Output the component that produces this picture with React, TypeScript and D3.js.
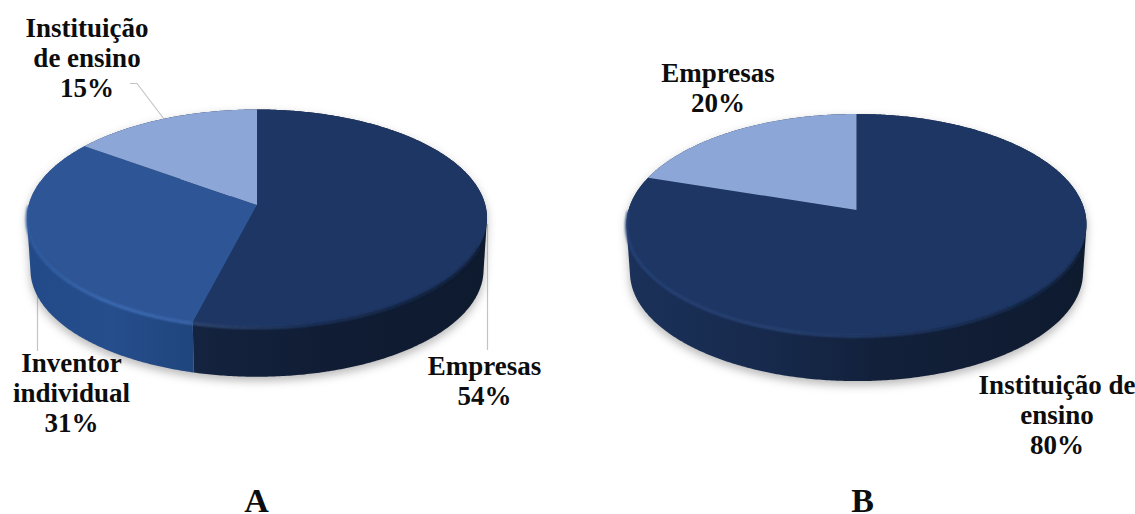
import React from "react";
import * as d3 from "d3";

const WIDTH = 1135;
const HEIGHT = 514;

const categoriesA = ["Empresas", "Inventor individual", "Instituição de ensino"];
const valuesA = [54, 31, 15];
const categoriesB = ["Instituição de ensino", "Empresas"];
const valuesB = [80, 20];
const panelTitles = ["A", "B"];

const DARK = "#1e3663";
const MID = "#2e5595";
const LIGHT = "#8ca7d7";

const topColors: Record<string, string> = {
  "Empresas|A": DARK,
  "Inventor individual|A": MID,
  "Instituição de ensino|A": LIGHT,
  "Instituição de ensino|B": DARK,
  "Empresas|B": LIGHT,
};

type Disc = { cx: number; cy: number; a: number; b: number; p: number; depth: number; shrink: number };

const discA: Disc = { cx: 257, cy: 205, a: 228.3, b: 107, p: 0.12, depth: 52, shrink: 0.985 };
const discB: Disc = { cx: 856.5, cy: 210, a: 228, b: 108.6, p: 0.131, depth: 48, shrink: 0.985 };

// Perspective projection of a point on the tilted disc: the near edge reads larger.
function project(d: Disc, theta: number, drop = 0, scale = 1): [number, number] {
  const u = Math.sin(theta);
  const v = -Math.cos(theta);
  const w = 1 - d.p * v;
  return [d.cx + (d.a * scale * u) / w, d.cy + drop + (d.b * scale * v) / w];
}

const lineGen = d3.line<[number, number]>().curve(d3.curveLinear);

function rim(d: Disc, a0: number, a1: number, drop = 0, scale = 1): [number, number][] {
  const n = Math.max(4, Math.ceil(Math.abs(a1 - a0) / 0.01));
  return d3.range(n + 1).map((i) => project(d, a0 + ((a1 - a0) * i) / n, drop, scale));
}

const pieGen = d3.pie<number>().sort(null).startAngle(0).endAngle(2 * Math.PI);

function Pie({ id, disc, cats, vals, panel }: { id: string; disc: Disc; cats: string[]; vals: number[]; panel: string }) {
  const arcs = pieGen(vals);
  const tone = (i: number) => topColors[`${cats[i]}|${panel}`];
  const sideFill = (i: number) => (tone(i) === MID ? `url(#${id}-sideMid)` : `url(#${id}-sideDark)`);
  // The extruded wall of a slice is the convex hull of its top and bottom rim arcs;
  // whatever the hull covers behind the rim is painted over by the top faces.
  const wall = (a0: number, a1: number) =>
    d3.polygonHull([...rim(disc, a0, a1), ...rim(disc, a0, a1, disc.depth, disc.shrink)]) as [number, number][];
  const silhouette = wall(0, 2 * Math.PI);
  return (
    <g>
      <path d={lineGen(silhouette) + "Z"} fill="#6f6f6f" opacity={0.5} transform="translate(0,4)" filter="url(#softShadow)" />
      {arcs.map((s, i) => (
        <path key={`side-${i}`} d={lineGen(wall(s.startAngle, s.endAngle)) + "Z"} fill={sideFill(i)} />
      ))}
      {arcs.map((s, i) => (
        <path
          key={`top-${i}`}
          d={lineGen([[disc.cx, disc.cy], ...rim(disc, s.startAngle, s.endAngle)]) + "Z"}
          fill={tone(i)}
        />
      ))}
      {arcs.map((s, i) =>
        tone(i) === LIGHT ? null : (
          <path
            key={`bevel-${i}`}
            d={lineGen(rim(disc, Math.max(s.startAngle, Math.PI * 0.62), Math.min(s.endAngle, Math.PI * 1.5), 1.2)) ?? ""}
            fill="none"
            stroke={tone(i) === MID ? `url(#${id}-bevelMid)` : `url(#${id}-bevelDark)`}
            strokeWidth={2.6}
            filter="url(#softEdge)"
          />
        ),
      )}
    </g>
  );
}

function Label({ x, y, lines }: { x: number; y: number; lines: string[] }) {
  return (
    <text x={x} y={y} textAnchor="middle" fontFamily="'Liberation Serif', serif" fontWeight={700} fontSize={27} fill="#0d0d0d">
      {lines.map((l, i) => (
        <tspan key={l} x={x} dy={i === 0 ? 0 : 30}>
          {l}
        </tspan>
      ))}
    </text>
  );
}

function sideGradient(id: string, x0: number, x1: number, stops: [number, string][]) {
  return (
    <linearGradient id={id} gradientUnits="userSpaceOnUse" x1={x0} x2={x1} y1={0} y2={0}>
      {stops.map(([o, c]) => (
        <stop key={o} offset={o} stopColor={c} />
      ))}
    </linearGradient>
  );
}

export default function App() {
  return (
    <svg width={WIDTH} height={HEIGHT} style={{ position: "absolute", left: 0, top: 0, background: "#fff" }}>
      <defs>
        <filter id="softShadow" x="-10%" y="-10%" width="120%" height="125%">
          <feGaussianBlur stdDeviation={5} />
        </filter>
        <filter id="softEdge" x="-5%" y="-5%" width="110%" height="110%">
          <feGaussianBlur stdDeviation={1} />
        </filter>
        {sideGradient("a-sideMid", 27, 195, [[0, "#234a88"], [0.5, "#264e8c"], [1, "#20457d"]])}
        {sideGradient("a-sideDark", 190, 487, [[0, "#14233f"], [0.5, "#101c33"], [1, "#0e1a2e"]])}
        {sideGradient("a-bevelMid", 27, 195, [[0, "#2f5ba0"], [0.5, "#4070ba"], [1, "#3f6db5"]])}
        {sideGradient("a-bevelDark", 190, 487, [[0, "#34507e"], [0.4, "#1e3663"], [1, "#14233f"]])}
        {sideGradient("b-sideMid", 627, 1086, [[0, "#234a88"], [1, "#1f447c"]])}
        {sideGradient("b-sideDark", 627, 1086, [[0, "#1b3159"], [0.3, "#172a4d"], [0.55, "#12203a"], [1, "#0e1a2e"]])}
        {sideGradient("b-bevelDark", 627, 1086, [[0, "#27437a"], [0.35, "#2a467a"], [0.7, "#1e3663"], [1, "#14233f"]])}
      </defs>

      <g fill="none" stroke="#c4c4c4" strokeWidth={1.2}>
        <path d="M130,83.5H137L164,119" />
        <path d="M37.5,280V351" />
        <path d="M487.5,224V350" />
      </g>

      <Pie id="a" disc={discA} cats={categoriesA} vals={valuesA} panel="A" />
      <Pie id="b" disc={discB} cats={categoriesB} vals={valuesB} panel="B" />

      <Label x={87} y={37} lines={["Instituição", "de ensino", `${valuesA[2]}%`]} />
      <Label x={71.5} y={372} lines={["Inventor", "individual", `${valuesA[1]}%`]} />
      <Label x={484.5} y={375} lines={["Empresas", `${valuesA[0]}%`]} />
      <Label x={718} y={82} lines={["Empresas", `${valuesB[1]}%`]} />
      <Label x={1057} y={394} lines={["Instituição de", "ensino", `${valuesB[0]}%`]} />

      <text x={256.5} y={512} textAnchor="middle" fontFamily="'Liberation Serif', serif" fontWeight={700} fontSize={34} fill="#0d0d0d">
        {panelTitles[0]}
      </text>
      <text x={862.5} y={512} textAnchor="middle" fontFamily="'Liberation Serif', serif" fontWeight={700} fontSize={34} fill="#0d0d0d">
        {panelTitles[1]}
      </text>
    </svg>
  );
}
